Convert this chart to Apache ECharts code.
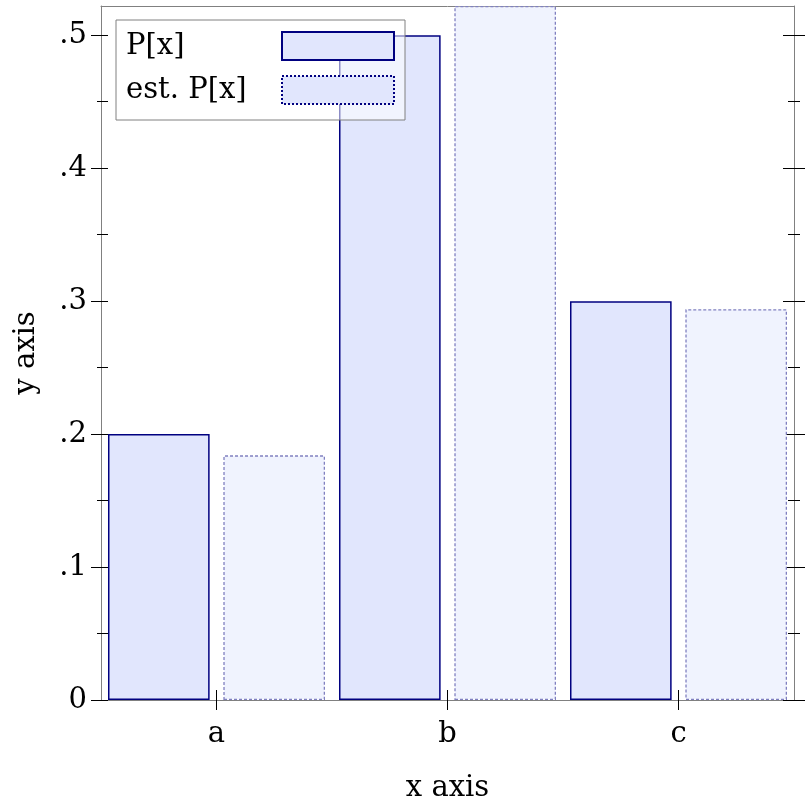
<!DOCTYPE html>
<html>
<head>
<meta charset="utf-8">
<script src="https://cdn.jsdelivr.net/npm/echarts@6/dist/echarts.min.js"></script>
<style>html,body{margin:0;padding:0;background:#fff}#c{width:812px;height:812px}</style>
</head>
<body>
<div id="c"></div>
<script>
const categories = ['a', 'b', 'c'];
const pValues = [0.2, 0.5, 0.3];
const estValues = [0.184, 0.522, 0.294];
const yTickValues = [0, 0.1, 0.2, 0.3, 0.4, 0.5];
const yTickLabels = ['0', '.1', '.2', '.3', '.4', '.5'];
const yMinorValues = [0.05, 0.15, 0.25, 0.35, 0.45];
const seriesNames = ['P[x]', 'est. P[x]'];

const FONT = 'DejaVu Serif';
const FS = 29;
const yMax = Math.max(...pValues, ...estValues);

function yAx(pos, values, inside, len, opts) {
  return Object.assign({
    type: 'value', position: pos, min: 0, max: yMax,
    axisLine: { show: false },
    splitLine: { show: false },
    axisLabel: { show: false },
    axisTick: { show: true, inside: inside, length: len, customValues: values,
      lineStyle: { color: '#000', width: 1 } }
  }, opts || {});
}

const yAxes = [
  yAx('left', yTickValues, false, 10, {
    axisLine: { show: true, onZero: false, lineStyle: { color: '#808080', width: 1 } },
    axisLabel: { show: true, customValues: yTickValues, margin: 14,
      fontFamily: FONT, fontSize: FS, color: '#000',
      formatter: v => yTickLabels[yTickValues.indexOf(v)] },
    name: 'y axis', nameLocation: 'middle', nameGap: 60,
    nameTextStyle: { fontFamily: FONT, fontSize: FS, color: '#000' }
  }),
  yAx('left', yTickValues, true, 7),
  yAx('left', yMinorValues, false, 4),
  yAx('left', yMinorValues, true, 7),
  yAx('right', yTickValues, false, 11, {
    axisLine: { show: true, onZero: false, lineStyle: { color: '#808080', width: 1 } }
  }),
  yAx('right', yTickValues, true, 11),
  yAx('right', yMinorValues, false, 6),
  yAx('right', yMinorValues, true, 6)
];

const xAxes = [
  { type: 'category', data: categories, position: 'bottom',
    axisLine: { show: true, onZero: false, lineStyle: { color: '#808080', width: 1 } },
    axisTick: { show: true, alignWithLabel: true, inside: false, length: 10,
      lineStyle: { color: '#000', width: 1 } },
    axisLabel: { show: true, margin: 20, fontFamily: FONT, fontSize: FS, color: '#000' },
    splitLine: { show: false },
    name: 'x axis', nameLocation: 'middle', nameGap: 74,
    nameTextStyle: { fontFamily: FONT, fontSize: FS, color: '#000' } },
  { type: 'category', data: categories, position: 'bottom',
    axisLine: { show: false },
    axisTick: { show: true, alignWithLabel: true, inside: true, length: 10,
      lineStyle: { color: '#000', width: 1 } },
    axisLabel: { show: false }, splitLine: { show: false } },
  { type: 'category', data: categories, position: 'top',
    axisLine: { show: true, onZero: false, lineStyle: { color: '#808080', width: 1 } },
    axisTick: { show: false }, axisLabel: { show: false }, splitLine: { show: false } }
];

const option = {
  animation: false,
  backgroundColor: '#fff',
  grid: { left: 101, right: 18, top: 6, bottom: 112, containLabel: false },
  xAxis: xAxes,
  yAxis: yAxes,
  legend: {
    orient: 'vertical', left: 116, top: 20, align: 'right',
    padding: [11, 10, 15, 10], itemGap: 14, itemWidth: 112, itemHeight: 28,
    backgroundColor: 'rgba(255,255,255,0.55)', borderColor: '#808080', borderWidth: 1,
    borderRadius: 0,
    selectedMode: false,
    textStyle: { fontFamily: FONT, fontSize: FS, color: '#000', lineHeight: 28,
      rich: { t: { fontFamily: FONT, fontSize: FS, color: '#000', width: 151, height: 28, lineHeight: 28, align: 'left' } } },
    formatter: name => '{t|' + name + '}',
    data: [
      { name: seriesNames[0], icon: 'rect',
        itemStyle: { color: '#e1e6fd', borderColor: '#000080', borderWidth: 2, borderType: 'solid' } },
      { name: seriesNames[1], icon: 'rect',
        itemStyle: { color: '#e1e6fd', borderColor: '#000080', borderWidth: 2, borderType: [2, 2] } }
    ]
  },
  series: [
    { name: seriesNames[0], type: 'bar', data: pValues, xAxisIndex: 0, yAxisIndex: 0,
      barWidth: '44%', barGap: '13.5%',
      itemStyle: { color: '#e1e6fd', borderColor: '#000080', borderWidth: 1.5 } },
    { name: seriesNames[1], type: 'bar', data: estValues, xAxisIndex: 0, yAxisIndex: 0,
      barWidth: '44%', barGap: '13.5%',
      itemStyle: { color: '#f0f3fe', borderColor: '#8080c0', borderWidth: 1.3, borderType: [3, 2] } }
  ]
};

const chart = echarts.init(document.getElementById('c'), null, { renderer: 'canvas' });
chart.setOption(option);
</script>
</body>
</html>
